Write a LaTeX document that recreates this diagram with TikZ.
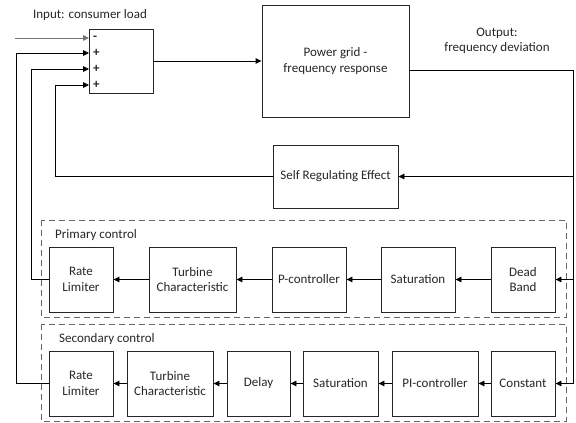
\documentclass[tikz,border=0pt]{standalone}
\usepackage{fontspec}
\setmainfont{Carlito}
\usetikzlibrary{arrows.meta,positioning}
\begin{document}
\begin{tikzpicture}[x=1pt,y=-1pt,
  every node/.style={font=\fontsize{13}{15.5}\selectfont, text=black!85},
  blk/.style={draw=black!85, line width=0.9pt, align=center, inner sep=0pt},
  ln/.style={draw=black, line width=0.9pt},
  arr/.style={ln, -{Triangle[length=6pt,width=5.5pt]}},
  grp/.style={draw=black!60, line width=0.9pt, dash pattern=on 6pt off 4pt},
  lbl/.style={inner sep=0pt}]
\useasboundingbox (0,0) rectangle (576,423);

% group frames
\draw[grp] (41,220) rectangle (566,317);
\draw[grp] (41,324) rectangle (566,421);
\node[lbl, anchor=west] (plabel) at (55,235) {Primary control};
\node[lbl, anchor=west] (slabel) at (59,339) {Secondary control};

% top blocks
\node[blk, minimum width=64, minimum height=64] (sum) at (121,61) {};
\node[blk, minimum width=147, minimum height=112] (pg) at (335.5,61) {Power grid -\\frequency response};
\node[blk, minimum width=125, minimum height=63] (self) at (335.5,176.5) {Self Regulating Effect};

\node[lbl] (inlabel) at (90,15) {Input: consumer load};
\node[lbl, align=center] (outlabel) at (497,41) {Output:\\frequency deviation};

% signs
\node[lbl, anchor=west] (sg1) at (93,38) {\textbf{-}};
\node[lbl, anchor=west] (sg2) at (93,53) {\textbf{+}};
\node[lbl, anchor=west] (sg3) at (93,69) {\textbf{+}};
\node[lbl, anchor=west] (sg4) at (93,85) {\textbf{+}};

% primary row
\node[blk, minimum width=64, minimum height=65] (rl1) at (81,279.5) {Rate\\Limiter};
\node[blk, minimum width=87, minimum height=65] (tc1) at (192.5,279.5) {Turbine\\Characteristic};
\node[blk, minimum width=74, minimum height=65] (pc) at (309,279.5) {P-controller};
\node[blk, minimum width=74, minimum height=65] (sat1) at (418,279.5) {Saturation};
\node[blk, minimum width=64, minimum height=65] (db) at (523,279.5) {Dead\\Band};

% secondary row
\node[blk, minimum width=64, minimum height=65] (rl2) at (81,383.5) {Rate\\Limiter};
\node[blk, minimum width=86, minimum height=65] (tc2) at (170,383.5) {Turbine\\Characteristic};
\node[blk, minimum width=63, minimum height=65] (delay) at (258.5,383.5) {Delay};
\node[blk, minimum width=75, minimum height=65] (sat2) at (340.5,383.5) {Saturation};
\node[blk, minimum width=86, minimum height=65] (pi) at (435,383.5) {PI-controller};
\node[blk, minimum width=64, minimum height=65] (const) at (523,383.5) {Constant};

% coordinates
\coordinate (in) at (15,38);
\coordinate (s1) at (89,38);
\coordinate (s2) at (89,53);
\coordinate (s3) at (89,69);
\coordinate (s4) at (89,85);
\coordinate (pgout) at (409,70);
\coordinate (rtop) at (573,70);
\coordinate (rself) at (573,176.5);
\coordinate (rdb) at (573,279.5);
\coordinate (rbot) at (573,383.5);
\coordinate (x2) at (16,383.5);
\coordinate (x3) at (31,279.5);
\coordinate (x4) at (55,176.5);

% connectors
\draw[arr, draw=black!55] (in) -- (s1);
\draw[arr] (rl2.west) -- (x2) |- (s2);
\draw[arr] (rl1.west) -- (x3) |- (s3);
\draw[arr] (self.west) -- (x4) |- (s4);
\draw[arr] (sum.east) -- (pg.west);
\draw[ln] (pgout) -- (rtop) -- (rbot);
\draw[arr] (rself) -- (self.east);
\draw[arr] (rdb) -- (db.east);
\draw[arr] (rbot) -- (const.east);

\draw[arr] (db.west) -- (sat1.east);
\draw[arr] (sat1.west) -- (pc.east);
\draw[arr] (pc.west) -- (tc1.east);
\draw[arr] (tc1.west) -- (rl1.east);

\draw[arr] (const.west) -- (pi.east);
\draw[arr] (pi.west) -- (sat2.east);
\draw[arr] (sat2.west) -- (delay.east);
\draw[arr] (delay.west) -- (tc2.east);
\draw[arr] (tc2.west) -- (rl2.east);
\end{tikzpicture}
\end{document}
